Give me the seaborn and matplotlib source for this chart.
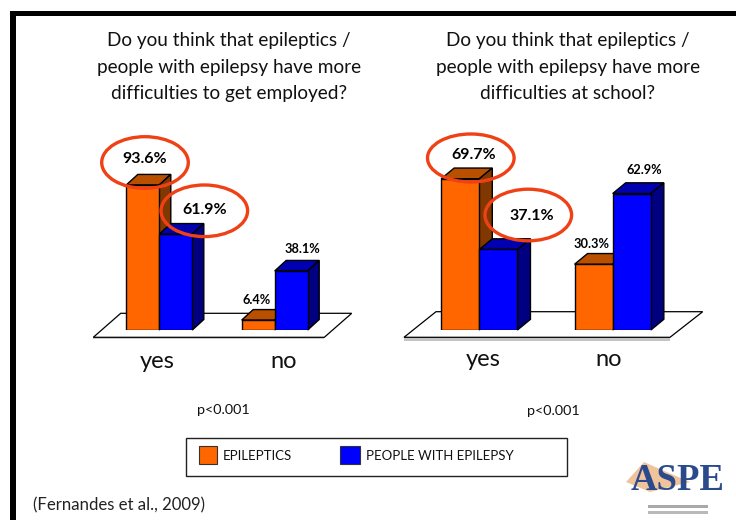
import matplotlib
matplotlib.use("Agg")
import matplotlib.pyplot as plt
from matplotlib.patches import Ellipse, Polygon, Rectangle
import pandas as pd
import seaborn as sns

W, H = 736, 520

answers = ["yes", "no"]
groups = ["EPILEPTICS", "PEOPLE WITH EPILEPSY"]
employed_epileptics = [93.6, 6.4]
employed_people = [61.9, 38.1]
school_epileptics = [69.7, 30.3]
school_people = [37.1, 62.9]

title_employed = "Do you think that epileptics /\npeople with epilepsy have more\ndifficulties to get employed?"
title_school = "Do you think that epileptics /\npeople with epilepsy have more\ndifficulties at school?"

ORANGE = ["#FF6600", "#B85000", "#803800"]
BLUE = ["#0000FF", "#0000B0", "#000080"]
RING = "#F04015"

sns.set_theme(style="white")
plt.rcParams["font.family"] = ["Lato", "DejaVu Sans"]

fig = plt.figure(figsize=(W / 100, H / 100), dpi=100, facecolor="white")

# overlay in pixel coords for the slide furniture
bg = fig.add_axes([0, 0, 1, 1], zorder=0)
bg.set_xlim(0, W)
bg.set_ylim(H, 0)
bg.axis("off")
top = fig.add_axes([0, 0, 1, 1], zorder=5)
top.set_xlim(0, W)
top.set_ylim(H, 0)
top.axis("off")
top.patch.set_alpha(0)


def draw_panel(first, second, left, right, bar_top, depth_x, depth_y):
    # y axis spans 0-100, baseline sits at pixel 330
    ax = fig.add_axes([left / W, 1 - 330 / H, (right - left) / W, (330 - bar_top) / H], zorder=2)
    ax.patch.set_alpha(0)
    df = pd.DataFrame({
        "answer": answers * 2,
        "group": [groups[0]] * 2 + [groups[1]] * 2,
        "value": first + second,
    })
    sns.barplot(data=df, x="answer", y="value", hue="group", palette=[ORANGE[0], BLUE[0]],
                width=0.572, gap=0, legend=False, saturation=1, ax=ax)
    ax.set_xlim(-0.5, 1.5)
    ax.set_ylim(0, 100)
    ax.axis("off")

    # fake the 3d look, depth given in pixels
    dx = depth_x / ((right - left) / 2)
    dy = depth_y / (330 - bar_top) * 100
    for i, container in enumerate(ax.containers):
        shades = ORANGE if i == 0 else BLUE
        for bar in container:
            x0, w, h = bar.get_x(), bar.get_width(), bar.get_height()
            x1 = x0 + w
            bar.set_edgecolor("black")
            bar.set_linewidth(1)
            bar.set_zorder(3 + 2 * i)
            ax.add_patch(Polygon([(x0, h), (x1, h), (x1 + dx, h + dy), (x0 + dx, h + dy)],
                                 fc=shades[1], ec="black", lw=1, zorder=2 + 2 * i, clip_on=False))
            ax.add_patch(Polygon([(x1, 0), (x1 + dx, dy), (x1 + dx, h + dy), (x1, h)],
                                 fc=shades[2], ec="black", lw=1, zorder=2 + 2 * i, clip_on=False))
    return ax


# floors
bg.add_patch(Polygon([(93.3, 337.3), (324.3, 337.3), (324.3, 338.6), (93.3, 338.6)], fc="#c8c8c8", ec="none"))
bg.add_patch(Polygon([(93.3, 337.3), (324.3, 337.3), (351.7, 313.3), (120.7, 313.3)], fc="white", ec="black", lw=0.9))
bg.add_patch(Polygon([(404, 337.3), (670, 337.3), (670, 340.5), (404, 340.5)], fc="#c4c4c4", ec="none"))
bg.add_patch(Polygon([(404, 337.3), (670, 337.3), (702.7, 311.7), (436, 311.7)], fc="white", ec="black", lw=0.9))

draw_panel(employed_epileptics, employed_people, 101.6, 332.4, 175, 11.5, 10.5)
draw_panel(school_epileptics, school_people, 412.6, 679.4, 113, 13, 10.7)

# frame of the slide
bg.add_patch(Rectangle((9.5, 11), W, 5, fc="black", ec="none"))
bg.add_patch(Rectangle((9.5, 11), 6, H, fc="black", ec="none"))

# titles
for cx, title in [(229, title_employed), (568, title_school)]:
    top.text(cx, 67, title, ha="center", va="center", fontsize=13.7, color="#111111", linespacing=1.66)

# rings and the big labels
for cx, cy, h in [(145, 162.5, 51.6), (204.3, 210.8, 51.6), (470.8, 158, 48), (528.3, 215, 51.6)]:
    top.add_patch(Ellipse((cx, cy), 86.6, h, fc="none", ec=RING, lw=2.4))
for x, y, s in [(145, 159, "93.6%"), (205, 210, "61.9%"), (474, 155, "69.7%"), (531.7, 215.7, "37.1%")]:
    top.text(x, y, s, ha="center", va="center", fontsize=11.5, fontweight="bold", color="black")
for x, y, s in [(256.7, 300, "6.4%"), (302.7, 249.3, "38.1%"), (591.7, 243.7, "30.3%"), (644, 169.7, "62.9%")]:
    top.text(x, y, s, ha="center", va="center", fontsize=9.2, fontweight="bold", color="black")

for x, y, s in [(157, 361, "yes"), (284, 361, "no"), (483, 360, "yes"), (609, 360, "no")]:
    top.text(x, y, s, ha="center", va="center", fontsize=17, color="#111111")
top.text(223, 410, "p<0.001", ha="center", va="center", fontsize=10.4, color="#111111")
top.text(553, 411, "p<0.001", ha="center", va="center", fontsize=10.4, color="#111111")

# legend box
top.add_patch(Rectangle((185.7, 438.3), 381, 37.4, fc="white", ec="#222222", lw=1))
top.add_patch(Rectangle((199, 446), 18, 17.5, fc=ORANGE[0], ec="#333333", lw=0.8))
top.add_patch(Rectangle((340, 446), 20, 17.5, fc=BLUE[0], ec="#333333", lw=0.8))
top.text(223, 456.5, groups[0], ha="left", va="center", fontsize=9.5, color="#111111")
top.text(366, 456.5, groups[1], ha="left", va="center", fontsize=9.5, color="#111111")

top.text(33, 505, "(Fernandes et al., 2009)", ha="left", va="center", fontsize=12.1, color="#222222")

# logo, rough
top.add_patch(Polygon([(626, 482), (644, 462), (662, 470), (690, 482), (650, 492)], fc="#EDB98A", ec="none", alpha=0.85))
top.text(678, 481, "ASPE", ha="center", va="center", fontsize=26.5, fontweight="bold",
         family="Liberation Serif", color="#2B4A8C")
top.add_patch(Rectangle((648, 505), 60, 3, fc="#a9a9a9", ec="none"))
top.add_patch(Rectangle((648, 511), 60, 3, fc="#b9b9b9", ec="none"))

fig.savefig("out.png", dpi=100, facecolor="white")
